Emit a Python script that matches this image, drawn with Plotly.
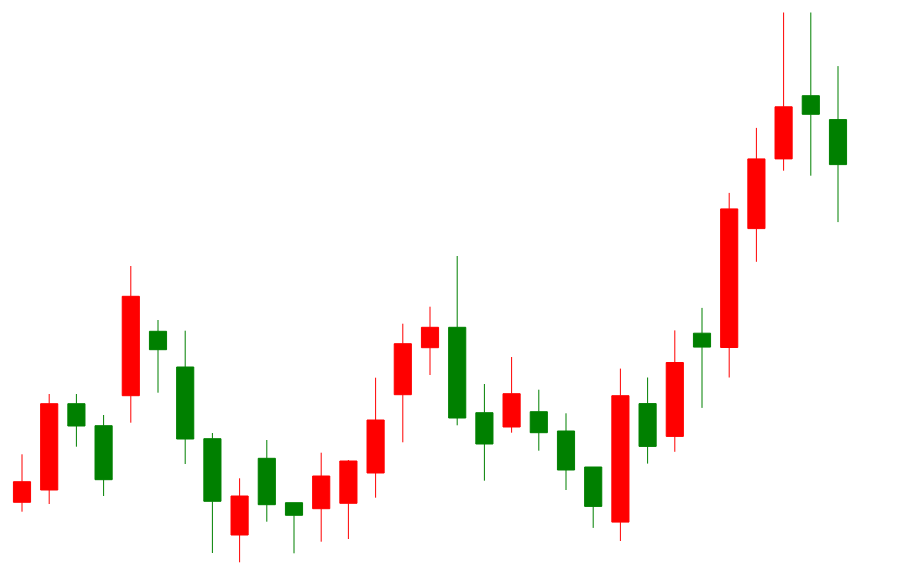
import plotly.graph_objects as go

days = list(range(1, 32))
open_ = [84.7, 97, 183.3, 161.3, 191.3, 255.7, 220, 148.3, 52, 128.7, 84.3, 78.3, 83.7, 114, 192.3,
         239.3, 259.7, 174.3, 160, 175.3, 156, 120, 64.9, 183.4, 150.6, 253.8, 239.5, 358.4, 428.1, 491.3, 467.4]
high = [132.7, 193, 193, 172, 321, 267, 256.3, 154, 108.7, 147, 84.3, 134.3, 127, 209.3, 263.3,
        280.3, 331, 203, 230, 197.3, 173.7, 120, 218.4, 209.5, 256.6, 279.1, 394.1, 459.1, 574.5, 574.5, 520.9]
low = [75.3, 83, 140.3, 91, 164.3, 194.3, 123, 34, 24.7, 65.3, 33.7, 45.3, 48, 89.3, 144.7,
       212, 161.7, 106.3, 154.3, 136.3, 97, 59.1, 46, 123.4, 135.2, 179.1, 209.5, 325.2, 416.3, 411.3, 364.9]
close = [105.3, 183.3, 161, 107.3, 290.7, 237.3, 148, 85.7, 91, 82.3, 71.7, 111, 126, 167, 243.3,
         259.7, 169, 143, 193.3, 154.3, 117, 80.6, 191.3, 140.6, 224.5, 239.9, 378.1, 428.1, 480.2, 472.7, 422.4]

fig = go.Figure(go.Candlestick(
    x=days, open=open_, high=high, low=low, close=close,
    increasing=dict(line=dict(color="#FF0000", width=1), fillcolor="#FF0000"),
    decreasing=dict(line=dict(color="#008000", width=1), fillcolor="#008000"),
    whiskerwidth=0,
))

px_per_unit = 27.2
x0 = 1 - 14 / px_per_unit
x1 = x0 + 905 / px_per_unit

fig.update_layout(
    width=905, height=587,
    margin=dict(l=0, r=0, t=0, b=0),
    paper_bgcolor="white", plot_bgcolor="white",
    showlegend=False,
    boxgap=0.37, boxgroupgap=0,
    xaxis=dict(visible=False, range=[x0, x1], rangeslider=dict(visible=False)),
    yaxis=dict(visible=False, range=[-8, 579]),
)

fig.write_html("out.html")
